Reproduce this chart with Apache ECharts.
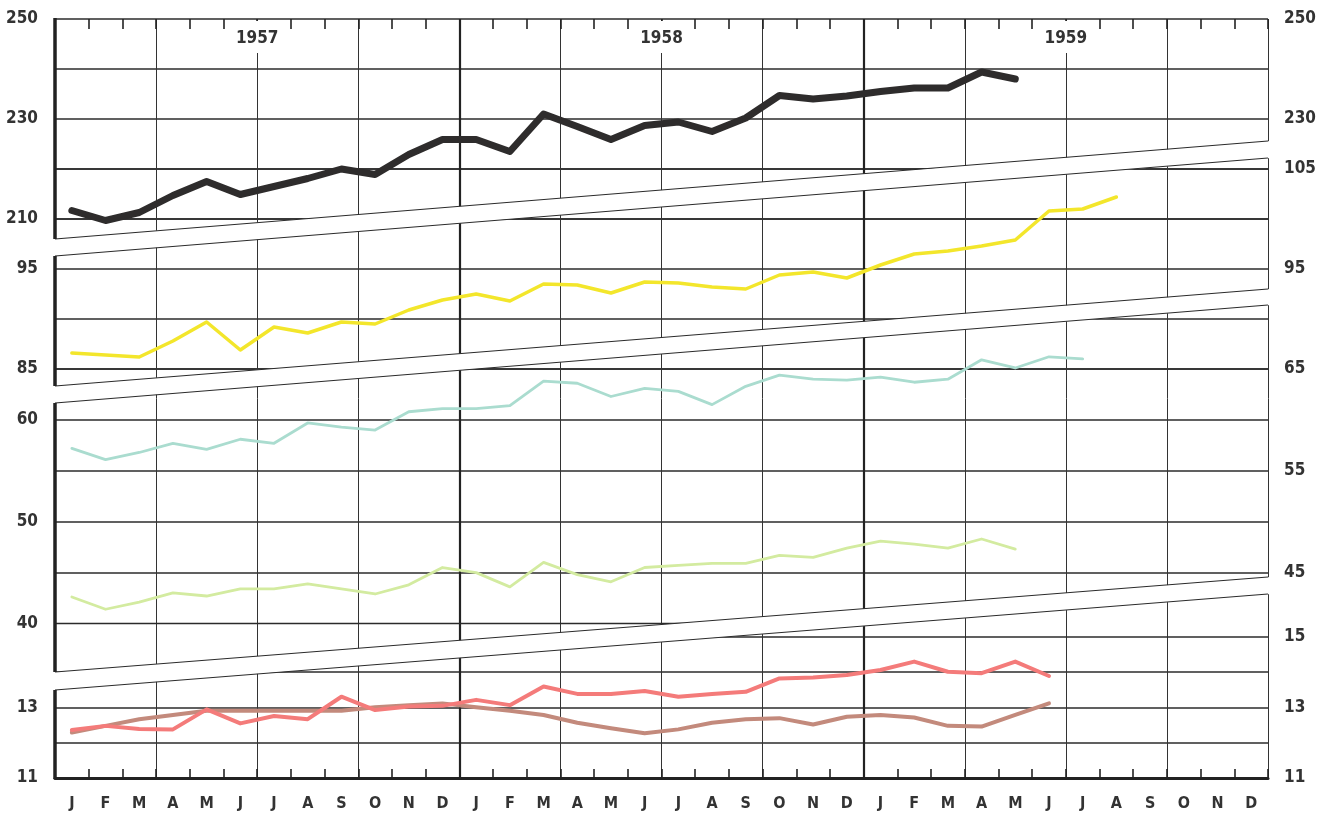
<!DOCTYPE html>
<html>
<head>
<meta charset="utf-8">
<script src="https://cdn.jsdelivr.net/npm/echarts@6/dist/echarts.min.js"></script>
<style>
  html, body { margin: 0; padding: 0; background: #fff; }
  #chart { width: 1321px; height: 814px; }
</style>
</head>
<body>
<div id="chart"></div>
<script>
// months along the bottom, three years
const MONTHS = ['J', 'F', 'M', 'A', 'M', 'J', 'J', 'A', 'S', 'O', 'N', 'D']
const YEARS = ['1957', '1958', '1959']
const CATEGORIES = YEARS.flatMap(y => MONTHS.map((m, i) => `${y}-${i + 1}|${m}`))

// series values, Jan 1957 onward
const blackSeries = [211.7, 209.7, 211.3, 214.7, 217.5, 214.9, 216.5, 218.1, 220.0, 218.9, 222.9, 225.9,
  225.9, 223.5, 231.0, 228.5, 225.9, 228.7, 229.4, 227.5, 230.2, 234.7, 234.0, 234.6,
  235.5, 236.2, 236.2, 239.4, 238.0]
const yellowSeries = [86.6, 86.4, 86.2, 87.8, 89.7, 86.9, 89.2, 88.6, 89.7, 89.5, 90.9, 91.9,
  92.5, 91.8, 93.5, 93.4, 92.6, 93.7, 93.6, 93.2, 93.0, 94.4, 94.7, 94.1,
  95.4, 96.5, 96.8, 97.3, 97.9, 100.8, 101.0, 102.2]
const cyanSeries = [57.2, 56.1, 56.8, 57.7, 57.1, 58.1, 57.7, 59.7, 59.3, 59.0, 60.8, 61.1,
  61.1, 61.4, 63.8, 63.6, 62.3, 63.1, 62.8, 61.5, 63.3, 64.4, 64.0, 63.9,
  64.2, 63.7, 64.0, 65.9, 65.1, 66.2, 66.0]
const greenSeries = [42.6, 41.4, 42.1, 43.0, 42.7, 43.4, 43.4, 43.9, 43.4, 42.9, 43.8, 45.5,
  45.0, 43.6, 46.0, 44.8, 44.1, 45.5, 45.7, 45.9, 45.9, 46.7, 46.5, 47.4,
  48.1, 47.8, 47.4, 48.3, 47.3]
const redSeries = [12.35, 12.47, 12.38, 12.37, 12.94, 12.54, 12.75, 12.66, 13.30, 12.92, 13.02, 13.04,
  13.21, 13.06, 13.59, 13.38, 13.38, 13.46, 13.30, 13.38, 13.44, 13.82, 13.85, 13.92,
  14.06, 14.30, 14.01, 13.97, 14.30, 13.89]
const brownSeries = [12.28, 12.47, 12.66, 12.78, 12.90, 12.90, 12.90, 12.90, 12.90, 13.00, 13.06, 13.11,
  13.00, 12.90, 12.78, 12.56, 12.40, 12.26, 12.37, 12.56, 12.66, 12.69, 12.51, 12.73,
  12.78, 12.71, 12.47, 12.45, 12.78, 13.11]

// tick labels shown on each side of each broken-axis section
const s1LeftTicks = [250, 230, 210]
const s1RightTicks = [250, 230]
const s2LeftTicks = [95, 85]
const s2RightTicks = [105, 95]
const s3LeftTicks = [60, 50, 40]
const s3RightTicks = [65, 55, 45]
const s4LeftTicks = [13, 11]
const s4RightTicks = [15, 13, 11]

const INK = '#2b2b2b'
const FONT = '"Liberation Sans Narrow", "DejaVu Sans Condensed", sans-serif'
const PLOT = { left: 55, right: 53, top: 19, bottom: 36 }

const sections = [
  { top: 19, height: 200, min: 210, max: 250, step: 10, left: s1LeftTicks, right: s1RightTicks },
  { top: 169, height: 200, min: 85, max: 105, step: 5, left: s2LeftTicks, right: s2RightTicks },
  { top: 369, height: 254.5, min: 40, max: 65, step: 5, left: s3LeftTicks, right: s3RightTicks, showMinLine: false },
  { top: 637, height: 140.5, min: 11, max: 15, step: 1, left: s4LeftTicks, right: s4RightTicks, showMaxLine: false },
]

// white breaks across the plot (left y top/bottom, right y top/bottom)
const breaks = [
  [239, 256, 141, 158],
  [386, 403, 289, 305],
  [672, 690, 577, 594],
]

const labelStyle = { color: '#333', fontFamily: FONT, fontWeight: 'bold', fontSize: 17 }

function sideAxis(gridIndex, sec, ticks, position) {
  const isLeft = position === 'left'
  return {
    type: 'value', gridIndex, position,
    min: sec.min, max: sec.max, interval: sec.step,
    axisLine: { show: false }, axisTick: { show: false },
    axisLabel: {
      ...labelStyle,
      margin: isLeft ? 17 : 16,
      showMinLabel: true, showMaxLabel: true,
      formatter: v => ticks.includes(v) ? String(v) : '',
    },
    splitLine: {
      show: isLeft,
      showMinLine: sec.showMinLine !== false,
      showMaxLine: sec.showMaxLine !== false,
      lineStyle: { color: INK, width: 1.6 },
    },
  }
}

const monthAxis = {
  type: 'category', data: CATEGORIES, boundaryGap: true,
}

const xAxis = [
  {
    ...monthAxis, gridIndex: 0, position: 'bottom',
    axisLine: { show: true, lineStyle: { color: '#222', width: 3 } },
    axisTick: { show: true, inside: true, length: 9, interval: 0, lineStyle: { color: '#222', width: 1.6 } },
    axisLabel: { ...labelStyle, fontSize: 16, interval: 0, margin: 18, formatter: v => v.split('|')[1] },
    splitLine: { show: true, interval: i => i > 0 && i % 3 === 0, lineStyle: { color: '#333', width: 1 } },
  },
  {
    ...monthAxis, gridIndex: 0, position: 'top',
    axisLine: { show: false },
    axisTick: { show: true, inside: true, length: 10, interval: 0, lineStyle: { color: '#222', width: 1.6 } },
    axisLabel: { show: false },
    splitLine: { show: false },
  },
  {
    ...monthAxis, gridIndex: 0, position: 'bottom',
    axisLine: { show: false }, axisTick: { show: false }, axisLabel: { show: false },
    splitLine: {
      show: true, interval: i => i === 12 || i === 24,
      lineStyle: { color: ['#222', '#222', 'rgba(0,0,0,0)'], width: 2.2 },
    },
  },
  {
    type: 'category', data: YEARS, gridIndex: 0, position: 'top', z: 1,
    axisLine: { show: false }, axisTick: { show: false }, splitLine: { show: false },
    axisLabel: { ...labelStyle, inside: true, margin: 2, backgroundColor: '#fff', padding: [9, 3, 6, 3] },
  },
  ...sections.map((s, k) => ({ ...monthAxis, gridIndex: k + 1, show: false })),
]

const yAxis = [
  { type: 'value', gridIndex: 0, show: false },
  ...sections.flatMap((s, k) => [sideAxis(k + 1, s, s.left, 'left'), sideAxis(k + 1, s, s.right, 'right')]),
]

function lineSeries(data, section, color, width) {
  return {
    type: 'line', data, xAxisIndex: 4 + section, yAxisIndex: 1 + section * 2,
    symbol: 'none', clip: false, z: 10, silent: true,
    lineStyle: { color, width, join: 'round', cap: 'round' },
  }
}

const graphics = []
breaks.forEach(([lt, lb, rt, rb]) => {
  graphics.push({ type: 'polygon', z: 5, silent: true, shape: { points: [[53, lt], [1271, rt], [1271, rb], [53, lb]] }, style: { fill: '#fff' } })
  graphics.push({ type: 'line', z: 6, silent: true, shape: { x1: 55, y1: lt, x2: 1268, y2: rt }, style: { stroke: INK, lineWidth: 1.2 } })
  graphics.push({ type: 'line', z: 6, silent: true, shape: { x1: 55, y1: lb, x2: 1268, y2: rb }, style: { stroke: INK, lineWidth: 1.2 } })
})
// thick left frame, broken at each cut
;[[18, 239], [256, 386], [403, 672], [690, 779]].forEach(([a, b]) => {
  graphics.push({ type: 'line', z: 6, silent: true, shape: { x1: 55, y1: a, x2: 55, y2: b }, style: { stroke: '#222', lineWidth: 3.5 } })
})
// grid lines that only exist on one side of the lowest cut
graphics.push({ type: 'line', z: 1, silent: true, shape: { x1: 55, y1: 623.5, x2: 760, y2: 623.5 }, style: { stroke: INK, lineWidth: 1.6 } })
graphics.push({ type: 'line', z: 1, silent: true, shape: { x1: 700, y1: 637, x2: 1268, y2: 637 }, style: { stroke: INK, lineWidth: 1.6 } })

const chart = echarts.init(document.getElementById('chart'))
chart.setOption({
  animation: false,
  backgroundColor: '#fff',
  grid: [
    { ...PLOT },
    ...sections.map(s => ({ left: PLOT.left, right: PLOT.right, top: s.top, height: s.height })),
  ],
  xAxis,
  yAxis,
  graphic: { elements: graphics },
  series: [
    lineSeries(blackSeries, 0, '#2e2c2c', 7),
    lineSeries(yellowSeries, 1, '#f3e62b', 3.5),
    lineSeries(cyanSeries, 2, '#aadccf', 2.8),
    lineSeries(greenSeries, 2, '#d3eba0', 2.8),
    lineSeries(brownSeries, 3, '#c38a7c', 4),
    lineSeries(redSeries, 3, '#f47b7a', 4),
  ],
})
</script>
</body>
</html>
